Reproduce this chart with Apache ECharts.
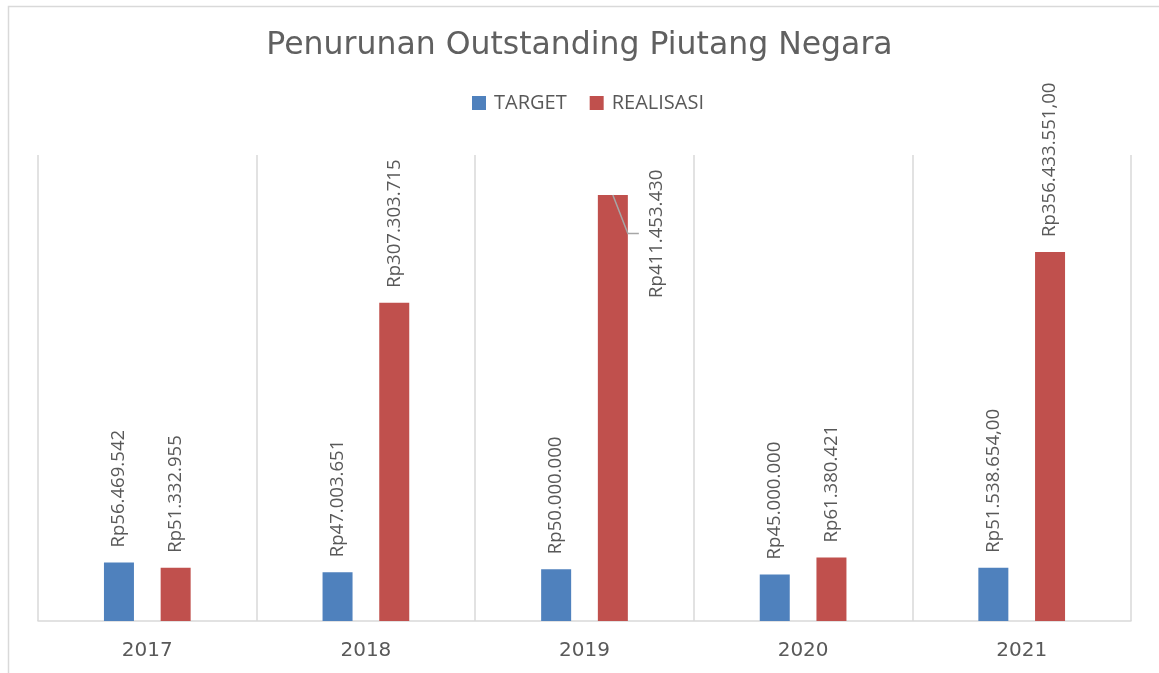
<!DOCTYPE html>
<html>
<head>
<meta charset="utf-8">
<script src="https://cdn.jsdelivr.net/npm/echarts@6/dist/echarts.min.js"></script>
<style>html,body{margin:0;padding:0;background:#fff}#c{width:1159px;height:673px}</style>
</head>
<body>
<div id="c"></div>
<script>
const categories = ['2017', '2018', '2019', '2020', '2021'];
const targetValues = [56469542, 47003651, 50000000, 45000000, 51538654];
const realisasiValues = [51332955, 307303715, 411453430, 61380421, 356433551];
const targetLabels = ['Rp56.469.542', 'Rp47.003.651', 'Rp50.000.000', 'Rp45.000.000', 'Rp51.538.654,00'];
const realisasiLabels = ['Rp51.332.955', 'Rp307.303.715', 'Rp411.453.430', 'Rp61.380.421', 'Rp356.433.551,00'];
const seriesNames = ['TARGET', 'REALISASI'];
const titleText = 'Penurunan Outstanding Piutang Negara';

(function () {
const chart = echarts.init(document.getElementById('c'), null, {renderer: 'canvas'});
const labelFont = {color: '#595959', fontFamily: 'Open Sans', fontSize: 18.6};

const realData = realisasiValues.map((v, i) => {
  if (i === 2) {
    return {value: v, label: {position: [58.5, 103]}};
  }
  return v;
});

const option = {
  animation: false,
  backgroundColor: '#fff',
  title: {
    text: titleText,
    left: 'center',
    top: 30,
    padding: 0,
    textStyle: {fontFamily: 'DejaVu Sans', fontSize: 31.5, fontWeight: 'normal', color: '#606060'}
  },
  legend: {
    data: seriesNames,
    top: 93,
    left: 472,
    padding: 0,
    itemWidth: 14,
    itemHeight: 14,
    itemGap: 23,
    icon: 'rect',
    textStyle: {fontFamily: 'Open Sans', fontSize: 20, color: '#595959', padding: [0, 0, 0, 3]}
  },
  grid: {left: 38, right: 28, top: 155, bottom: 52, containLabel: false},
  xAxis: {
    type: 'category',
    data: categories,
    boundaryGap: true,
    axisLine: {lineStyle: {color: '#D9D9D9', width: 1.5}},
    axisTick: {show: false},
    splitLine: {show: true, lineStyle: {color: '#D9D9D9', width: 1.5}},
    axisLabel: {fontFamily: 'DejaVu Sans', fontSize: 20, fontWeight: 'normal', color: '#595959', margin: 20}
  },
  yAxis: {
    type: 'value',
    min: 0,
    max: 450000000,
    show: false,
    splitLine: {show: false}
  },
  series: [
    {
      name: seriesNames[0],
      type: 'bar',
      data: targetValues,
      barWidth: 30,
      barGap: '89%',
      itemStyle: {color: '#4F81BD'},
      label: Object.assign({
        show: true, position: 'top', rotate: 90, align: 'left', verticalAlign: 'middle', distance: 15,
        formatter: p => targetLabels[p.dataIndex]
      }, labelFont)
    },
    {
      name: seriesNames[1],
      type: 'bar',
      data: realData,
      barWidth: 30,
      barGap: '89%',
      itemStyle: {color: '#C0504D'},
      label: Object.assign({
        show: true, position: 'top', rotate: 90, align: 'left', verticalAlign: 'middle', distance: 15,
        formatter: p => realisasiLabels[p.dataIndex]
      }, labelFont)
    }
  ]
};
chart.setOption(option);

// leader line for the moved 2019 REALISASI label, from library layout
const lay = chart.getModel().getSeriesByIndex(1).getData().getItemLayout(2);
const barTop = Math.min(lay.y, lay.y + lay.height);
const cx = lay.x + lay.width / 2;
const right = lay.x + lay.width;
chart.setOption({
  graphic: [
    {
      type: 'rect', z: -10, silent: true,
      shape: {x: 8.5, y: 6.5, width: 1200, height: 700},
      style: {fill: 'none', stroke: '#D9D9D9', lineWidth: 1.5}
    },
    {
      type: 'polyline', z: 100, silent: true,
      shape: {points: [[cx, barTop], [right, barTop + 38.5], [right + 11, barTop + 38.5]]},
      style: {fill: 'none', stroke: '#A6A6A6', lineWidth: 1.5}
    }
  ]
});
})();
</script>
</body>
</html>
